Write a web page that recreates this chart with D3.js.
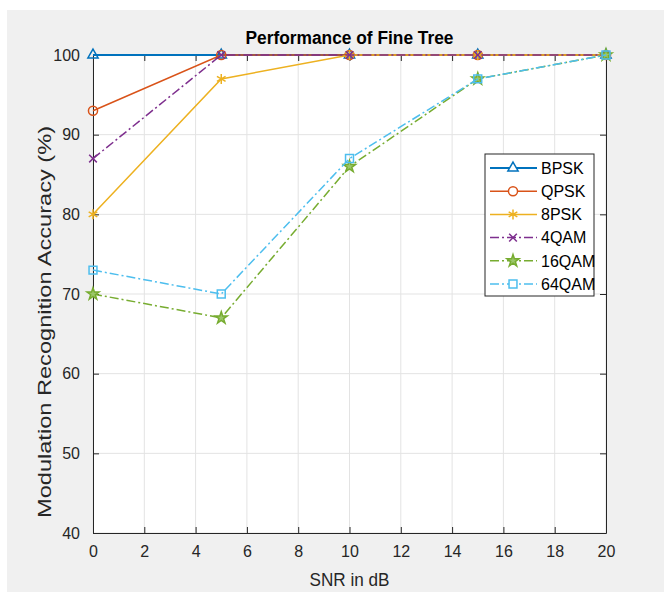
<!DOCTYPE html>
<html>
<head>
<meta charset="utf-8">
<script src="https://cdn.jsdelivr.net/npm/d3@7"></script>
<style>
  html, body { margin: 0; padding: 0; background: #ffffff; }
  svg { display: block; font-family: "Liberation Sans", Arial, Helvetica, sans-serif; }
</style>
</head>
<body>
<div id="chart"></div>
<script>
// data
const snr = [0, 5, 10, 15, 20];
const seriesNames = ["BPSK", "QPSK", "8PSK", "4QAM", "16QAM", "64QAM"];
const bpsk = [100, 100, 100, 100, 100];
const qpsk = [93, 100, 100, 100, 100];
const psk8 = [80, 97, 100, 100, 100];
const qam4 = [87, 100, 100, 100, 100];
const qam16 = [70, 67, 86, 97, 100];
const qam64 = [73, 70, 87, 97, 100];
const xTicks = [0, 2, 4, 6, 8, 10, 12, 14, 16, 18, 20];
const yTicks = [40, 50, 60, 70, 80, 90, 100];

const W = 664, H = 592;
const plotL = 93, plotR = 606, plotT = 55, plotB = 533;

const svg = d3.select("#chart").append("svg")
    .attr("width", W).attr("height", H);

// figure background
svg.append("rect")
    .attr("x", 7).attr("y", 10)
    .attr("width", W - 7).attr("height", H - 10)
    .attr("fill", "#f0f0f0");

svg.append("rect")
    .attr("x", plotL).attr("y", plotT)
    .attr("width", plotR - plotL).attr("height", plotB - plotT)
    .attr("fill", "#ffffff");

const x = d3.scaleLinear().domain([0, 20]).range([plotL, plotR]);
const y = d3.scaleLinear().domain([40, 100]).range([plotB, plotT]);

// grid
const grid = svg.append("g");
grid.selectAll(".gx").data(xTicks).enter().append("line")
    .attr("x1", d => x(d)).attr("x2", d => x(d))
    .attr("y1", plotT).attr("y2", plotB)
    .attr("stroke", "#e3e3e3").attr("stroke-width", 1);
grid.selectAll(".gy").data(yTicks).enter().append("line")
    .attr("x1", plotL).attr("x2", plotR)
    .attr("y1", d => y(d)).attr("y2", d => y(d))
    .attr("stroke", "#e3e3e3").attr("stroke-width", 1);

// axes (box on, ticks inward)
const axisColor = "#262626";
function styleAxis(g, showText) {
    g.select(".domain").attr("stroke", axisColor);
    g.selectAll(".tick line").attr("stroke", axisColor);
    g.selectAll(".tick text")
        .attr("fill", axisColor)
        .style("font-size", "16px")
        .style("font-family", "'Liberation Sans', Arial, sans-serif")
        .style("display", showText ? null : "none");
}

svg.append("g").attr("transform", `translate(0,${plotB})`)
    .call(d3.axisBottom(x).tickValues(xTicks).tickSize(-6).tickPadding(13).tickSizeOuter(0))
    .call(g => styleAxis(g, true));
svg.append("g").attr("transform", `translate(0,${plotT})`)
    .call(d3.axisTop(x).tickValues(xTicks).tickSize(-6).tickSizeOuter(0))
    .call(g => styleAxis(g, false));
svg.append("g").attr("transform", `translate(${plotL},0)`)
    .call(d3.axisLeft(y).tickValues(yTicks).tickSize(-6).tickPadding(13).tickSizeOuter(0))
    .call(g => styleAxis(g, true));
svg.append("g").attr("transform", `translate(${plotR},0)`)
    .call(d3.axisRight(y).tickValues(yTicks).tickSize(-6).tickSizeOuter(0))
    .call(g => styleAxis(g, false));

// series
const dashDot = "9,3,2,3";
const series = [
    { name: seriesNames[0], values: bpsk, color: "#0072BD", dash: null, width: 2, symbol: d3.symbolTriangle2, size: 75, fill: "none" },
    { name: seriesNames[1], values: qpsk, color: "#D95319", dash: null, width: 1.5, symbol: d3.symbolCircle, size: 65, fill: "none" },
    { name: seriesNames[2], values: psk8, color: "#EDB120", dash: null, width: 1.5, symbol: d3.symbolAsterisk, size: 70, fill: "none" },
    { name: seriesNames[3], values: qam4, color: "#7E2F8E", dash: dashDot, width: 1.5, symbol: d3.symbolTimes, size: 40, fill: "none" },
    { name: seriesNames[4], values: qam16, color: "#77AC30", dash: dashDot, width: 1.5, symbol: d3.symbolStar, size: 45, fill: "#9cc76a" },
    { name: seriesNames[5], values: qam64, color: "#4DBEEE", dash: dashDot, width: 1.5, symbol: d3.symbolSquare2, size: 80, fill: "none" }
];

const line = d3.line().x((d, i) => x(snr[i])).y(d => y(d));

series.forEach(s => {
    const g = svg.append("g");
    g.append("path")
        .attr("d", line(s.values))
        .attr("fill", "none")
        .attr("stroke", s.color)
        .attr("stroke-width", s.width)
        .attr("stroke-dasharray", s.dash);
    g.selectAll("path.m").data(s.values).enter().append("path")
        .attr("class", "m")
        .attr("transform", (d, i) => `translate(${x(snr[i])},${y(d)})`)
        .attr("d", d3.symbol().type(s.symbol).size(s.size))
        .attr("fill", s.fill)
        .attr("stroke", s.color)
        .attr("stroke-width", 1.5);
});

// title and labels
svg.append("text")
    .attr("x", (plotL + plotR) / 2).attr("y", 44)
    .attr("text-anchor", "middle")
    .style("font-size", "18px").style("font-weight", "bold")
    .attr("textLength", 208)
    .attr("lengthAdjust", "spacingAndGlyphs")
    .attr("fill", "#000")
    .text("Performance of Fine Tree");

svg.append("text")
    .attr("x", (plotL + plotR) / 2).attr("y", 586)
    .attr("text-anchor", "middle")
    .style("font-size", "18px")
    .attr("textLength", 80)
    .attr("lengthAdjust", "spacingAndGlyphs")
    .attr("fill", axisColor)
    .text("SNR in dB");

svg.append("text")
    .attr("transform", "translate(51,322) rotate(-90)")
    .attr("text-anchor", "middle")
    .style("font-size", "19px")
    .attr("textLength", 392)
    .attr("lengthAdjust", "spacingAndGlyphs")
    .attr("fill", axisColor)
    .text("Modulation Recognition Accuracy (%)");

// legend
const lg = svg.append("g");
lg.append("rect")
    .attr("x", 485).attr("y", 154)
    .attr("width", 109).attr("height", 142)
    .attr("fill", "#ffffff")
    .attr("stroke", axisColor).attr("stroke-width", 1);

const ly = d3.scalePoint().domain(seriesNames).range([168, 284]);
series.forEach(s => {
    const cy = ly(s.name);
    lg.append("line")
        .attr("x1", 490).attr("x2", 537)
        .attr("y1", cy).attr("y2", cy)
        .attr("stroke", s.color)
        .attr("stroke-width", s.width)
        .attr("stroke-dasharray", s.dash);
    lg.append("path")
        .attr("transform", `translate(513,${cy})`)
        .attr("d", d3.symbol().type(s.symbol).size(s.size))
        .attr("fill", s.fill === "none" ? "#ffffff" : s.fill)
        .attr("stroke", s.color)
        .attr("stroke-width", 1.5);
    lg.append("text")
        .attr("x", 541).attr("y", cy)
        .attr("dy", "0.36em")
        .style("font-size", "16px")
        .attr("fill", "#000")
        .text(s.name);
});
</script>
</body>
</html>
